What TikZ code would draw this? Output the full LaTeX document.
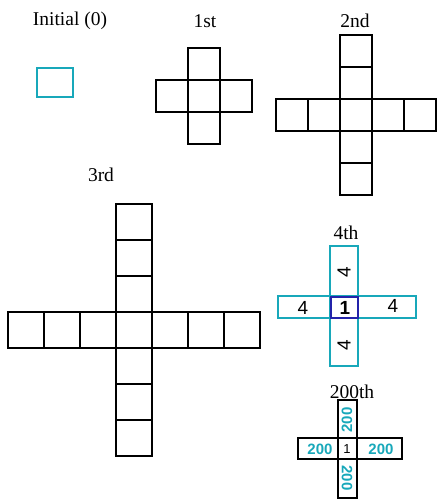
\documentclass[tikz,border=0pt]{standalone}
\usepackage{fontspec}
\setmainfont{Liberation Serif}
\newfontfamily\handfont{Liberation Sans}
\usetikzlibrary{calc, positioning}

\definecolor{penteal}{RGB}{24,168,186}
\definecolor{penblue}{RGB}{35,35,170}

\tikzset{
  box/.style={draw=black, line width=2.2pt},
  tealbox/.style={draw=penteal, line width=2.6pt},
  stage/.style={anchor=base, font=\fontsize{19.5}{22}\selectfont},
  tally/.style={font=\handfont\fontsize{19}{19}\selectfont},
  tealtally/.style={text=penteal, font=\handfont\bfseries\fontsize{15}{15}\selectfont},
}

% plus shaped grid: centre x, centre y, cell size, arm length
\newcommand{\plusgrid}[4]{%
  \foreach \k in {-#4,...,#4}{
    \draw[box] (#1+\k*#3-#3/2, #2-#3/2) rectangle ++(#3,#3);
    \draw[box] (#1-#3/2, #2+\k*#3-#3/2) rectangle ++(#3,#3);
  }
}

\begin{document}
\begin{tikzpicture}[x=1pt, y=-1pt]
\useasboundingbox (0,0) rectangle (438,502);

% Stage labels
\node[stage] (lab0) at (70,26) {Initial (0)};
\node[stage] (lab1) at (205,28) {1st};
\node[stage] (lab2) at (355,28) {2nd};
\node[stage] (lab3) at (101,182) {3rd};
\node[stage] (lab4) at (346,240) {4th};
\node[stage] (lab200) at (352,398) {200th};

% Initial square
\draw[tealbox] (37,68) rectangle (73,97);

% First three stages
\plusgrid{204}{96}{32}{1}
\plusgrid{356}{115}{32}{2}
\plusgrid{134}{330}{36}{3}

% 4th stage sketch
\draw[tealbox] (330,246) rectangle (358,366);
\draw[tealbox] (278,296) rectangle (416,318);
\draw[draw=penblue, line width=2.4pt] (331,297) rectangle (358,318);
\node[tally, font=\handfont\bfseries\fontsize{19}{19}\selectfont] (fourc) at (345,308) {1};
\node[tally] (fourl) at (303,308) {4};
\node[tally] (fourr) at (393,306) {4};
\node[tally, rotate=90] (fourt) at (344,272) {4};
\node[tally, rotate=90] (fourb) at (344,345) {4};

% 200th stage sketch
\draw[box] (338,400) rectangle (357,498);
\draw[box] (298,438) rectangle (402,459);
\node[font=\handfont\fontsize{13}{13}\selectfont] (hundc) at (347,449) {1};
\node[tealtally] (hundl) at (320,449) {200};
\node[tealtally] (hundr) at (381,449) {200};
\node[tealtally, rotate=90] (hundt) at (347,420) {200};
\node[tealtally, rotate=-90] (hundb) at (347,478) {200};
\end{tikzpicture}
\end{document}
